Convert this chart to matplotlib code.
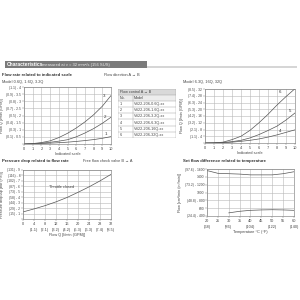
import matplotlib
matplotlib.use("Agg")
import matplotlib.pyplot as plt
from matplotlib.patches import Rectangle

plt.rcParams['font.family'] = ['Liberation Sans', 'DejaVu Sans']

# ---- data: flow rate vs indicated scale (small models)
scale = [0, 1, 2, 3, 4, 5, 6, 7, 8, 9, 10]
flow_1 = [0, 0.01, 0.03, 0.06, 0.09, 0.13, 0.18, 0.24, 0.31, 0.40, 0.52]
flow_2 = [0, 0.02, 0.06, 0.12, 0.20, 0.30, 0.50, 0.77, 1.08, 1.45, 1.88]
flow_3 = [0, 0.03, 0.10, 0.22, 0.45, 0.75, 1.12, 1.55, 2.05, 2.65, 3.40]
small_yticks = [0, 0.5, 1, 1.5, 2, 2.5, 3, 3.5, 4]
small_ylabels = ['', '(0.1) - 0.5', '(0.3) - 1', '(0.4) - 1.5', '(0.5) - 2',
                 '(0.7) - 2.5', '(0.8) - 3', '(0.9) - 3.5', '(1.1) - 4']

# ---- data: flow rate vs indicated scale (large models)
flow_4 = [0, 0.05, 0.2, 0.5, 1.0, 1.6, 2.4, 3.5, 4.8, 6.3, 7.8]
flow_5 = [0, 0.05, 0.3, 0.8, 1.6, 3.0, 5.0, 7.4, 10.0, 13.6, 17.8]
flow_6 = [0, 0.1, 0.5, 2.0, 4.0, 7.5, 12.0, 17.0, 22.5, 27.5, 32.2]
large_yticks = [0, 4, 8, 12, 16, 20, 24, 28, 32]
large_ylabels = ['', '(1.1) - 4', '(2.1) - 8', '(3.2) - 12', '(4.2) - 16',
                 '(5.3) - 20', '(6.3) - 24', '(7.4) - 28', '(8.5) - 32']

# ---- data: table
table_no = ['1', '2', '3', '4', '5', '6']
table_model = ['VS22-206-0.6Q-xx', 'VS22-206-1.6Q-xx', 'VS22-206-3.2Q-xx',
               'VS22-206-6.3Q-xx', 'VS22-206-16Q-xx', 'VS22-206-32Q-xx']

# ---- data: pressure drop vs flow rate
dp_flow = [0, 4, 8, 12, 16, 20, 24, 28, 32]
dp_bar = [1.3, 1.85, 2.45, 3.15, 3.95, 4.9, 5.9, 7.0, 8.2]
dp_xlabels = ['0', '4\n(1.1)', '8\n(2.1)', '12\n(3.2)', '16\n(4.2)', '20\n(5.3)',
              '24\n(6.3)', '28\n(7.4)', '32\n(8.5)']
dp_yticks = [0, 1, 2, 3, 4, 5, 6, 7, 8, 9]
dp_ylabels = ['', '(15) - 1', '(29) - 2', '(44) - 3', '(58) - 4', '(73) - 5',
              '(87) - 6', '(102) - 7', '(116) - 8', '(131) - 9']

# ---- data: set flow difference vs temperature
temp_a = [20, 25, 30, 35, 40, 45, 50, 55, 60]
diff_a = [1560, 1490, 1480, 1470, 1450, 1450, 1450, 1480, 1530]
temp_b = [30, 35, 40, 45, 50, 55, 60]
diff_b = [480, 520, 545, 555, 560, 555, 545]
temp_xlabels = ['20\n(68)', '25', '30\n(86)', '35', '40\n(104)', '45', '50\n(122)', '55', '60\n(140)']
temp_yticks = [400, 600, 800, 1000, 1200, 1400, 1600]
temp_ylabels = ['(24.4) - 400', '600', '(48.8) - 800', '1000', '(73.2) - 1200', '1400', '(97.6) - 1600']

TXT = '#444444'
LINE = '#555555'
FS = 3.1
LS = 2.8

fig = plt.figure(figsize=(3, 3), dpi=100)


def px(x, y):
    return x / 300, 1 - y / 300


def box(l, t, r, b):
    return [l / 300, 1 - b / 300, (r - l) / 300, (b - t) / 300]


def style(ax, label_x):
    for s in ax.spines.values():
        s.set_color('#808080')
        s.set_linewidth(0.45)
    ax.grid(True, color='#b8b8b8', linewidth=0.4)
    ax.set_axisbelow(True)
    ax.tick_params(labelsize=2.8, length=1.2, width=0.35, pad=1,
                   colors='#888888', labelcolor=TXT)
    ax.tick_params(axis='y', labelsize=2.4, pad=0.8)
    ax.yaxis.set_label_coords(label_x, 0.5)


# banner
fig.patches.append(Rectangle(px(147, 68.5), 150 / 300, 2 / 300, transform=fig.transFigure,
                             color='#d6d6d6', lw=0))
fig.patches.append(Rectangle(px(5, 68.5), 142 / 300, 7 / 300, transform=fig.transFigure,
                             color='#7a7a7a', lw=0))
fig.text(*px(7, 65), 'Characteristics', color='white', fontsize=3.6, weight='bold', va='center')
fig.text(*px(42, 65.2), 'measured at \u03bd = 32 mm\u00b2/s (156 SUS)', color='#eeeeee',
         fontsize=3.0, va='center')

# titles
fig.text(*px(2, 75), 'Flow rate related to indicated scale', fontsize=FS, weight='bold',
         color='#333333', va='center')
fig.text(*px(104, 75), 'Flow direction A \u2192 B', fontsize=LS, color=TXT, va='center')
fig.text(*px(2, 82), 'Model 0.6Q, 1.6Q, 3.2Q', fontsize=LS, color=TXT, va='center')
fig.text(*px(183, 82), 'Model 6.3Q, 16Q, 32Q', fontsize=LS, color=TXT, va='center')
fig.text(*px(2, 161), 'Pressure drop related to flow rate', fontsize=FS, weight='bold',
         color='#333333', va='center')
fig.text(*px(83, 161), 'Free flow check valve B \u2192 A', fontsize=LS, color=TXT, va='center')
fig.text(*px(183, 161), 'Set flow difference related to temperature', fontsize=FS,
         weight='bold', color='#333333', va='center')

# top-left chart
ax1 = fig.add_axes(box(24, 87, 111, 144))
ax1.plot(scale, flow_1, color=LINE, lw=0.5)
ax1.plot(scale, flow_2, color=LINE, lw=0.5)
ax1.plot(scale, flow_3, color=LINE, lw=0.5)
ax1.text(9.2, 3.4, '3', fontsize=3.2, color='#333333', ha='center', va='center')
ax1.text(9.3, 1.9, '2', fontsize=3.2, color='#333333', ha='center', va='center')
ax1.text(9.4, 0.72, '1', fontsize=3.2, color='#333333', ha='center', va='center')
ax1.set_xlim(0, 10)
ax1.set_ylim(0, 4)
ax1.set_xticks(scale)
ax1.set_yticks(small_yticks)
ax1.set_yticklabels(small_ylabels)
ax1.set_xlabel('Indicated scale', fontsize=LS, color=TXT, labelpad=1)
ax1.set_ylabel('Flow Q [l/min (GPM)]', fontsize=2.7, color=TXT)
style(ax1, -0.235)

# top-right chart
ax2 = fig.add_axes(box(205, 89, 295, 143))
ax2.plot(scale, flow_4, color=LINE, lw=0.5)
ax2.plot(scale, flow_5, color=LINE, lw=0.5)
ax2.plot(scale, flow_6, color=LINE, lw=0.5)
ax2.text(8.3, 30.4, '6', fontsize=3.2, color='#333333', ha='center', va='center')
ax2.text(9.4, 19, '5', fontsize=3.2, color='#333333', ha='center', va='center')
ax2.text(8.3, 7, '4', fontsize=3.2, color='#333333', ha='center', va='center')
ax2.set_xlim(0, 10)
ax2.set_ylim(0, 32)
ax2.set_xticks(scale)
ax2.set_yticks(large_yticks)
ax2.set_yticklabels(large_ylabels)
ax2.set_xlabel('Indicated scale', fontsize=LS, color=TXT, labelpad=1)
ax2.set_ylabel('Flow Q [l/min (GPM)]', fontsize=2.7, color=TXT)
style(ax2, -0.235)

# table
axt = fig.add_axes(box(118, 89, 176, 137.7))
axt.set_xlim(0, 58)
axt.set_ylim(48.7, 0)
axt.axis('off')
row_h = 6.1
axt.add_patch(Rectangle((0, 0), 58, row_h, color='#d9d9d9', lw=0))
axt.add_patch(Rectangle((0, row_h), 58, row_h, color='#ededed', lw=0))
for i in range(9):
    axt.plot([0, 58], [i * row_h, i * row_h], color='#999999', lw=0.3)
axt.plot([0, 0], [0, 8 * row_h], color='#999999', lw=0.3)
axt.plot([58, 58], [0, 8 * row_h], color='#999999', lw=0.3)
axt.plot([14.5, 14.5], [row_h, 8 * row_h], color='#999999', lw=0.3)
axt.text(1.5, row_h / 2, 'Flow control A \u2192 B', fontsize=2.7, color=TXT, va='center')
axt.text(1.5, row_h * 1.5, 'No.', fontsize=2.7, color=TXT, va='center')
axt.text(16, row_h * 1.5, 'Model', fontsize=2.7, color=TXT, va='center')
for i, (n, m) in enumerate(zip(table_no, table_model)):
    axt.text(1.5, row_h * (i + 2.5), n, fontsize=2.7, color=TXT, va='center')
    axt.text(16, row_h * (i + 2.5), m, fontsize=2.7, color=TXT, va='center')

# bottom-left chart
ax3 = fig.add_axes(box(23, 170, 111, 219))
ax3.plot(dp_flow, dp_bar, color=LINE, lw=0.5)
ax3.text(13.9, 5.9, 'Throttle closed', fontsize=2.8, color=TXT, ha='center', va='center')
ax3.set_xlim(0, 32)
ax3.set_ylim(0, 9)
ax3.set_xticks(dp_flow)
ax3.set_xticklabels(dp_xlabels, linespacing=1.6)
ax3.set_yticks(dp_yticks)
ax3.set_yticklabels(dp_ylabels)
ax3.set_xlabel('Flow Q [l/min (GPM)]', fontsize=LS, color=TXT, labelpad=1)
ax3.set_ylabel('Pressure drop \u0394p [bar (PSI)]', fontsize=2.7, color=TXT)
style(ax3, -0.215)

# bottom-right chart
ax4 = fig.add_axes(box(207, 169, 294, 216))
ax4.plot(temp_a, diff_a, color=LINE, lw=0.5)
ax4.plot(temp_b, diff_b, color=LINE, lw=0.5)
ax4.set_xlim(20, 60)
ax4.set_ylim(400, 1600)
ax4.set_xticks(temp_a)
ax4.set_xticklabels(temp_xlabels, linespacing=1.6, va='top')
ax4.set_yticks(temp_yticks)
ax4.set_yticklabels(temp_ylabels)
ax4.set_xlabel('Temperature \u00b0C (\u00b0F)', fontsize=LS, color=TXT, labelpad=1)
ax4.set_ylabel('Flow [cm\u00b3/min (in\u00b3/min)]', fontsize=2.7, color=TXT)
style(ax4, -0.285)

fig.savefig('out.png', dpi=100, facecolor='white')
